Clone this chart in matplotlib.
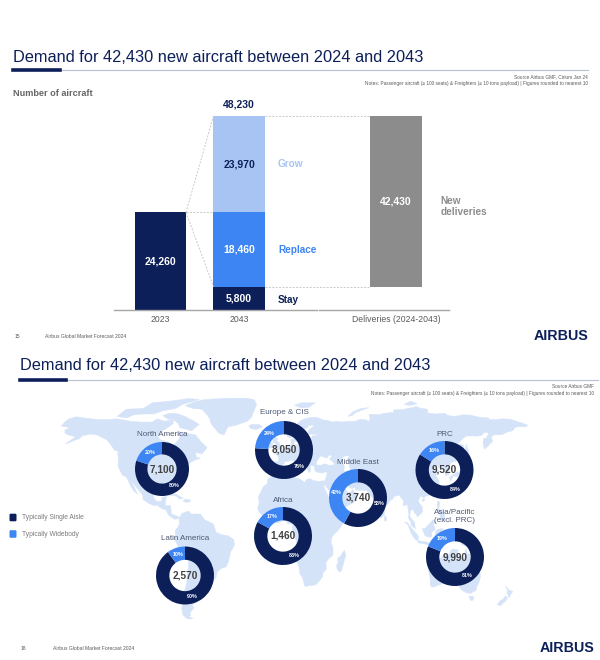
import matplotlib
matplotlib.use("Agg")
import matplotlib.pyplot as plt
from matplotlib.patches import Polygon, FancyBboxPatch

plt.rcParams['font.family'] = ['Liberation Sans', 'DejaVu Sans']

NAVY = '#0c1f59'
BLUE = '#3d85f2'
LIGHT = '#a8c4f2'
GREY_BAR = '#8c8c8c'
LAND = '#d5e3f9'
TXT = '#595959'

# ---- top chart data ----
categories = ['2023', '2043', 'Deliveries (2024-2043)']
fleet_2023 = 24260
stay = 5800
replace = 18460
grow = 23970
fleet_2043 = 48230
deliveries = 42430

# ---- regional split data ----
regions = ['North America', 'Europe & CIS', 'Middle East', 'PRC',
           'Africa', 'Latin America', 'Asia/Pacific\n(excl. PRC)']
region_totals = [7100, 8050, 3740, 9520, 1460, 2570, 9990]
single_aisle_pct = [80, 76, 58, 84, 83, 90, 81]
widebody_pct = [20, 24, 42, 16, 17, 10, 19]

# donut layout in pixels: centre x, centre y, radius, label y
donut_pos = [(162, 469, 27, 435), (284, 450, 29, 413), (358, 498, 29, 462),
             (444.5, 470, 29, 435), (283, 536, 29, 500), (185, 575.5, 29, 538),
             (455, 557, 29, 516)]

# coarse land outlines (lon, lat) for the background map
land = {
    'north_america': [(-168, 65.5), (-165, 68), (-162, 70), (-156, 71.3), (-150, 70.5), (-141, 69.7), (-133, 69.5),
                      (-125, 70), (-115, 68.5), (-108, 68), (-98, 68), (-94, 70), (-89, 68.5), (-82, 69.5), (-82, 67),
                      (-87, 64), (-92, 62), (-94, 59), (-92, 57), (-85, 55.3), (-82, 53), (-80, 55), (-77, 58),
                      (-78, 62), (-72, 61), (-65, 60), (-61, 56), (-56, 52), (-60, 48), (-65, 49), (-64, 46),
                      (-61, 45.5), (-66, 44), (-70, 42), (-72, 41), (-74, 40), (-76, 37), (-76, 35), (-81, 31.5),
                      (-80, 27), (-80.5, 25.2), (-82, 26.5), (-83, 29), (-85, 30), (-89, 30.2), (-90, 29),
                      (-94, 29.6), (-97, 27.8), (-97.5, 24), (-97, 21), (-95, 18.5), (-91, 18.5), (-90.5, 21),
                      (-87, 21.5), (-88, 18), (-88, 15.8), (-84, 15.8), (-83.5, 12), (-83.5, 10.5), (-79.5, 9.5),
                      (-77.5, 8.5), (-79, 7.5), (-81, 7.3), (-83, 8.4), (-85.7, 10), (-87.5, 13), (-91, 14),
                      (-94, 16), (-96.5, 15.7), (-101, 17.3), (-105, 19.5), (-105.5, 22.5), (-108, 25), (-111, 28),
                      (-114.7, 31.6), (-113, 29), (-111, 26), (-109.5, 23), (-112, 24.8), (-114.2, 27.5),
                      (-115.9, 30.3), (-117.1, 32.5), (-118.5, 34), (-120.6, 34.5), (-123, 38), (-124.3, 40.5),
                      (-124, 46), (-124.7, 48.4), (-123, 49), (-127, 50.5), (-130, 54), (-133, 57), (-137, 58.5),
                      (-140, 59.8), (-145, 60.5), (-148, 60), (-151.5, 59.5), (-154, 57.5), (-158, 56.5), (-162, 55),
                      (-164.5, 54.5), (-159, 57.5), (-157, 58.8), (-162, 59.8), (-165, 61), (-165, 63), (-161, 64.5),
                      (-166, 65.2)],
    'baffin': [(-90, 72), (-85, 73.5), (-80, 73.5), (-73, 71.5), (-67, 69), (-62, 66.5), (-65, 64.5), (-68, 62.5),
               (-72, 63.5), (-77, 64.5), (-78, 67), (-82, 69.5), (-86, 69.8)],
    'arctic_isl': [(-125, 71.5), (-118, 76), (-105, 76.5), (-98, 80), (-85, 81), (-70, 82.7), (-62, 82), (-75, 79),
                   (-80, 76.5), (-90, 75), (-97, 73), (-105, 73), (-112, 72.5), (-118, 70.5)],
    'greenland': [(-73, 78.2), (-66, 80.5), (-58, 82), (-45, 82.7), (-30, 83.5), (-20, 82), (-18, 79), (-20, 75),
                  (-22, 71), (-25, 68.5), (-34, 66), (-40, 65), (-43, 60), (-47, 61), (-50, 64), (-53, 67), (-54, 70),
                  (-56, 72.5), (-60, 76), (-67, 76.5)],
    'iceland': [(-24, 65.5), (-22, 66.5), (-16, 66.5), (-13.5, 65), (-18, 63.4), (-22.5, 63.8)],
    'cuba': [(-85, 21.8), (-82, 23.2), (-80, 23.1), (-77, 21.7), (-74.2, 20.2), (-77.5, 19.9), (-79, 21.5),
             (-82.5, 22.2)],
    'hispaniola': [(-74.5, 18.5), (-72.8, 19.9), (-69.5, 19.5), (-68.4, 18.6), (-71.5, 17.7)],
    'south_america': [(-77.5, 8.5), (-76, 9.5), (-75.5, 10.8), (-72, 12), (-70, 12.3), (-68, 10.5), (-64, 10.6),
                      (-61, 10.5), (-58, 7), (-55, 5.8), (-52, 4.7), (-51, 4), (-50, 1.5), (-49, -1), (-44, -2.5),
                      (-40, -3), (-35.5, -5.5), (-35, -9), (-38, -13), (-39, -17), (-40, -20), (-41.5, -22.5),
                      (-44, -23), (-47, -24.5), (-48.5, -26), (-48.8, -28.5), (-51, -31), (-53, -33.5), (-55, -35),
                      (-57.5, -35), (-57, -37), (-58, -38.5), (-62, -39), (-62.5, -41), (-65, -41), (-64, -43),
                      (-65.5, -45), (-67.5, -46.5), (-66, -48), (-69, -51), (-68.5, -52.5), (-70, -53.5),
                      (-66.5, -55), (-71, -55), (-74.5, -52.5), (-75.5, -48), (-74, -44), (-73.5, -38),
                      (-71.5, -32), (-71.4, -28), (-70.3, -23), (-70.2, -18.5), (-72, -17), (-76, -14), (-77.5, -11),
                      (-79.5, -7.5), (-81.2, -5), (-80.3, -3), (-80.5, -1), (-80, 1), (-78.7, 2), (-77.4, 4),
                      (-77.4, 7), (-77.8, 8)],
    'eurasia': [(-9.3, 36.9), (-9.5, 39), (-8.8, 42), (-9.2, 43.2), (-8, 43.7), (-4, 43.4), (-1.5, 43.4),
                (-1.2, 46), (-2.5, 47.3), (-4.7, 48), (-3, 48.8), (-1.5, 48.7), (-1.3, 49.6), (1.5, 50.2),
                (1.6, 51), (3.5, 51.5), (4.8, 53), (7, 53.5), (8.5, 54), (8.3, 57), (10.5, 57.7), (11.5, 58.5),
                (10.5, 59), (8, 58), (5.5, 58.8), (5, 61), (5, 62.5), (8, 63.5), (12, 65.5), (14, 67.5), (16, 69),
                (19, 70), (23, 70.8), (28, 71), (31, 70), (33, 69.3), (36, 69), (40.5, 68), (44, 68.5), (46, 68),
                (53, 68.5), (55, 68.3), (59, 68.8), (61, 69.8), (66, 69.3), (68, 68.3), (69, 70.5), (68, 72.7),
                (73, 72.8), (75, 72.5), (80, 73.5), (87, 74), (87, 75.5), (95, 76), (101, 77), (104.5, 77.7),
                (107, 76.8), (113, 76), (113, 73.7), (119, 73), (126, 73.5), (129, 72), (134, 71.5), (140, 72.5),
                (146, 72.3), (150, 71.5), (153, 71), (160, 70.5), (160, 69.6), (167, 69.6), (170, 70), (176, 69.8),
                (180, 68.8), (185, 67.5), (190, 66), (188, 65), (182, 65), (180, 64.5), (178, 62.5), (174, 61.8),
                (170, 60), (166, 60), (163, 59.8), (162, 58), (163, 56), (160, 53.5), (156.5, 51), (155.5, 55),
                (156, 57.5), (158, 58), (160, 61), (157, 61.7), (154, 59.5), (151, 59.2), (148, 59.3), (143, 59.3),
                (140.5, 58), (137, 55), (135, 54.7), (138, 54), (140.5, 53.5), (141, 52), (140.5, 50), (140, 48),
                (138, 46.5), (135, 43.5), (132, 43), (131, 42.5), (129.7, 41), (129.5, 38), (129.3, 35.2),
                (126.5, 34.5), (126.3, 36.5), (126.7, 37.8), (125, 38), (125, 39.5), (124, 39.8), (121.5, 39),
                (121.5, 40.8), (120, 40.3), (118, 39), (117.5, 38.5), (119, 37.2), (120.8, 37.8), (122.5, 37),
                (120.5, 36), (119.2, 34.8), (120.5, 33), (121.9, 31), (121.5, 30), (122, 29), (120.5, 27),
                (119.5, 25.5), (118, 24.5), (116, 22.8), (114, 22.3), (111, 21.5), (110, 20.3), (109, 21.5),
                (107.5, 21.5), (106.5, 20.2), (105.7, 19), (107, 17), (109, 15), (109.3, 12), (107.7, 10.5),
                (105, 8.7), (104.8, 10.2), (103, 11), (102.5, 12.5), (100.9, 13.5), (100, 12.5), (99.2, 10),
                (100.3, 8), (101.3, 6.9), (103.2, 5.3), (103.5, 2), (104.2, 1.3), (102, 2.3), (100.4, 4),
                (100.3, 5.5), (98.3, 8), (98.6, 10), (98.2, 13), (97.5, 16.5), (95.3, 15.8), (94.2, 16),
                (94.5, 19), (92.8, 20.5), (92, 21.5), (91.6, 22.5), (90.5, 22), (89, 21.8), (87, 21.5),
                (86.5, 20), (84.8, 19.2), (82.3, 16.6), (80.3, 15.5), (80.2, 13), (79.8, 10.3), (78, 8.2),
                (77, 8), (76, 9.5), (74.8, 12.5), (73.5, 15.8), (72.8, 19), (72.6, 21.3), (70.3, 20.9),
                (68.5, 23), (67.5, 23.8), (66.5, 25.4), (64, 25.3), (61.5, 25.2), (58, 25.6), (57.3, 27.2),
                (54.8, 26.5), (52, 27.8), (50.2, 30), (48.5, 30), (48, 29), (49.2, 27), (50.2, 26), (50.8, 24.7),
                (51.6, 24.2), (54, 24.2), (56, 26), (56.5, 24.5), (58.5, 23.5), (59.8, 22.4), (58.5, 20.4),
                (57.7, 19), (56.5, 18), (55, 17), (52.3, 16), (49, 14.2), (45.5, 13), (43.5, 12.7), (42.8, 14.8),
                (42.5, 16.5), (41, 19), (39.2, 21.5), (38.5, 24), (36.7, 26), (35, 28), (34.6, 29.5), (33.8, 28),
                (32.6, 29.8), (32.3, 31.2), (34.3, 31.3), (35, 33), (35.9, 35.5), (36.2, 36.6), (34.7, 36.8),
                (32.5, 36.1), (30.5, 36.3), (29, 36.6), (27.4, 37), (26.3, 38.3), (26.2, 39.5), (26, 40.5),
                (24, 40.8), (22.8, 40.5), (23.5, 38), (22.5, 36.4), (21.7, 36.8), (21, 38.5), (19.5, 40.5),
                (19.4, 41.8), (16, 43.5), (13.6, 45.1), (12.3, 45.2), (12.5, 44), (14, 42.5), (16, 41.4),
                (18.5, 40.2), (17, 39), (16.5, 38), (15.7, 38), (16.2, 39.3), (15.5, 40.2), (12.5, 41.5),
                (11, 42.5), (10, 44), (8.5, 44.3), (7, 43.6), (4.5, 43.4), (3, 43), (3.2, 41.9), (1, 41),
                (0, 39.5), (-0.5, 38.3), (-1.6, 37), (-2.2, 36.7), (-4.4, 36.7), (-5.6, 36), (-6.3, 36.8),
                (-7.4, 37.2), (-8.9, 37)],
    'britain': [(-5.7, 50), (-3, 50.6), (1.3, 51.1), (1.7, 52.7), (0, 53.5), (-0.3, 54.5), (-1.6, 55.6),
                (-2.8, 56.1), (-1.8, 57.6), (-3.2, 58.6), (-5, 58.6), (-6.2, 57.5), (-5.5, 56), (-5, 55),
                (-3.2, 54.6), (-3, 53.4), (-4.5, 53.2), (-4.3, 52.2), (-5.2, 51.7), (-3.2, 51.4), (-4.5, 50.6)],
    'ireland': [(-10, 51.6), (-6.2, 52), (-6, 53.8), (-5.5, 54.5), (-6.3, 55.3), (-8.3, 55.2), (-10, 54.2),
                (-9.8, 53), (-10.5, 52.2)],
    'svalbard': [(11, 78.5), (16, 80), (27, 80), (22, 77.2), (16, 76.8)],
    'novaya_zemlya': [(52, 71.5), (56, 74.5), (62, 76.5), (68, 77), (58, 74), (55, 72)],
    'severnaya': [(95, 79), (100, 81), (105, 79.5), (100, 78.3)],
    'africa': [(-5.9, 35.8), (-2, 35.1), (1, 36.5), (3.5, 36.8), (8.6, 36.9), (10.2, 37.2), (11.1, 36.8),
               (10.3, 35.5), (11.1, 33.3), (13, 32.9), (15.3, 32.3), (19, 30.3), (20.1, 32.2), (23, 32.6),
               (25, 31.6), (29, 30.9), (32.3, 31.2), (32.6, 29.8), (33.6, 27.5), (35.5, 24), (37.2, 21),
               (38.4, 18), (39.3, 15.8), (41.2, 14.5), (43.3, 12.5), (44.5, 10.4), (47, 11.1), (51.2, 11.8),
               (51, 10.4), (49.5, 7.5), (48, 4.5), (46, 2), (43.5, -0.5), (41.5, -1.9), (40, -3.5), (39.2, -5),
               (39.3, -8), (40.5, -10.5), (40.5, -15), (37, -17.5), (35, -20), (35.5, -23.8), (32.9, -26),
               (32.5, -28.5), (30.8, -30.5), (27.5, -33.5), (25, -34), (22, -34.2), (20, -34.8), (18.4, -34),
               (18.2, -32), (17, -29), (15.2, -27), (14.5, -22.9), (13.4, -20.5), (11.8, -17.5), (12, -14),
               (13.8, -10.7), (13, -8.5), (12.2, -6), (11, -3.8), (9.2, -1), (9.6, 2), (9.8, 3.5), (8.5, 4.5),
               (6, 4.3), (4.5, 6.3), (2, 6.3), (-1, 5.1), (-4, 5.2), (-7.5, 4.4), (-9.5, 5.5), (-11.5, 6.9),
               (-13.3, 8.8), (-15, 10.9), (-16.7, 12.5), (-17.2, 14.7), (-16.5, 16.2), (-16, 18), (-16.8, 21.3),
               (-14.6, 24.6), (-13, 27.6), (-9.8, 29.6), (-9.7, 32), (-6.8, 34)],
    'madagascar': [(49.3, -12), (50.4, -15.5), (49.5, -17.5), (48, -22), (47, -25), (45, -25.5), (43.6, -23.5),
                   (43.3, -21.5), (44.4, -19.5), (44, -17), (46.3, -15.8), (48, -13.5)],
    'sri_lanka': [(79.8, 8), (80.2, 9.8), (81.9, 7.5), (81.2, 6.1), (80.1, 6.2)],
    'japan': [(129.6, 33.2), (130.9, 31), (131.9, 33), (132.5, 34.3), (135, 34), (135.8, 33.5), (137, 34.6),
              (139, 34.8), (140.8, 35.7), (141, 38), (142, 39.5), (141.4, 41.4), (140, 40.6), (140, 39.5),
              (139.2, 38), (137.5, 37), (136.5, 37), (133, 35.5), (131, 34.4)],
    'hokkaido': [(140, 41.5), (141.5, 42.5), (143.3, 42), (145.5, 43.3), (144.5, 44), (141.8, 45.4),
                 (141.3, 43.7), (140.3, 43)],
    'sakhalin': [(142, 46), (143.5, 46.5), (143, 49.5), (144.6, 49), (143, 53.5), (142.6, 54.3), (142.2, 51.5),
                 (141.8, 48.7)],
    'taiwan': [(120.1, 23), (121, 25.3), (122, 25), (120.8, 22)],
    'hainan': [(108.6, 19.2), (110.5, 20.1), (111, 19.6), (109.6, 18.2)],
    'philippines': [(120.5, 18.5), (122.2, 18.5), (122.3, 16.5), (121.6, 14), (124, 12.6), (125.5, 11),
                    (126.2, 9), (125.5, 6), (124, 6.5), (123, 7.5), (122, 7), (122.9, 9), (122, 10.5), (121, 13),
                    (120.3, 14.5), (120.6, 16)],
    'sumatra': [(95.3, 5.6), (97.5, 5.2), (100.3, 2.2), (104.5, -1.8), (106, -3.1), (105.8, -5.8), (104.5, -5.9),
                (102.3, -4), (100.3, -1.2), (99, 1.5), (98.2, 3.5)],
    'java': [(105.2, -6.8), (106.5, -6), (108.5, -6.7), (111, -6.5), (114.5, -7.7), (114.4, -8.7), (111, -8.2),
             (108, -7.8), (106, -7.4)],
    'borneo': [(109, 1.5), (110.3, -1.5), (111, -3), (114.5, -4), (116.5, -3.5), (116, -1), (118.9, 1),
               (117.5, 4), (119.2, 5.4), (117, 7), (115.5, 5.3), (113, 3.2), (111, 1.6)],
    'sulawesi': [(119.4, -5.5), (120.5, -5.5), (121, -2.5), (122.8, -4.8), (122, -1.5), (121, -1), (123.3, -0.8),
                 (125, 1.5), (120.5, 1), (119.3, -0.5), (118.8, -3)],
    'new_guinea': [(131, -1), (134, -0.8), (135.5, -3.3), (138, -1.7), (141, -2.6), (145, -4.2), (146.6, -6.5),
                   (148, -8), (150.5, -10.5), (147.5, -10.2), (146, -8), (143.5, -9), (141, -9.1), (138.8, -8.3),
                   (138.2, -6), (137.5, -5), (135, -4.5), (133, -4), (132, -2.8)],
    'australia': [(113.5, -22), (114, -26), (115, -30), (115, -33.6), (116, -35), (118, -35), (121, -33.9),
                  (124, -33), (126, -32.3), (129, -31.7), (131.5, -31.5), (134, -32.5), (135.6, -34.8),
                  (137.8, -32.7), (137.5, -35.5), (140, -37.5), (143.5, -38.8), (146.3, -39), (148, -37.8),
                  (150, -37.5), (150.7, -35), (152.5, -32), (153.6, -28.5), (153, -25.3), (150.8, -22.5),
                  (148.8, -20.3), (146.3, -19), (145.4, -16), (145, -14.5), (143.6, -14), (142.5, -10.8),
                  (141.6, -13), (141.5, -16.5), (140.7, -17.5), (139, -16.7), (136.8, -15.8), (136, -13),
                  (136.8, -12), (133, -11.3), (131, -12), (129.5, -15), (127.5, -14), (125.8, -14.5),
                  (123.5, -16.5), (122.2, -18), (121, -19.5), (117, -20.7)],
    'tasmania': [(144.6, -40.7), (148.3, -40.9), (148, -43.2), (146.5, -43.6), (145.2, -42.2)],
    'nz_north': [(172.7, -34.4), (174.5, -36), (175.5, -37), (178.5, -37.7), (177, -39.3), (176, -41.3),
                 (174.7, -41.3), (175, -40), (173.8, -39.2), (174.5, -37.5)],
    'nz_south': [(172.7, -40.5), (174.2, -41.7), (173, -43.8), (171, -45), (169, -46.7), (166.5, -46),
                 (168.3, -44), (171, -42.5)],
}
water = {
    'black_sea': [(28, 41.3), (28.2, 43.3), (29.7, 45.3), (31, 46.6), (33.5, 46), (35.5, 45.2), (38, 47.2),
                  (39.5, 47), (37.5, 44.7), (40, 43.3), (41.6, 41.6), (38, 40.9), (35, 42), (33, 41.9),
                  (31.2, 41.1)],
    'caspian': [(47, 44.5), (49, 46.5), (51.5, 47), (53, 46.5), (51, 45), (52.5, 42.5), (53, 40), (54, 37.5),
                (51, 36.8), (49, 37.5), (49.5, 40.3), (48, 42.5)],
    'baltic': [(10.8, 54), (14, 54), (19, 54.5), (21, 56.5), (23.5, 57.5), (24.5, 59.4), (29.5, 60),
               (24.5, 60.2), (21.5, 60.5), (21.5, 63), (25, 65), (25.5, 65.8), (22, 65.8), (21, 64.5),
               (17.5, 62.5), (17.5, 61), (19, 59.8), (16.5, 57), (16, 56.2), (14, 55.5), (12.5, 56), (11, 55.5)],
}

W, H = 600, 660


def px_rect(left, top, width, height):
    return [left / W, 1 - (top + height) / H, width / W, height / H]


fig = plt.figure(figsize=(6, 6.6), dpi=100)

# overlay for slide text (pixel coordinates)
bg = fig.add_axes([0, 0, 1, 1])
bg.set_xlim(0, W)
bg.set_ylim(H, 0)
bg.axis('off')
bg.set_zorder(5)

title = 'Demand for 42,430 new aircraft between 2024 and 2043'
notes = 'Notes: Passenger aircraft (\u2265 100 seats) & Freighters (\u2265 10 tons payload) | Figures rounded to nearest 10'

# ---------- slide 1 ----------
bg.text(13, 62, title, fontsize=11.8, color=NAVY, va='baseline')
bg.plot([13, 588], [70, 70], color='#b9c0d3', lw=0.8)
bg.plot([13, 60], [70, 70], color=NAVY, lw=2.6)
bg.text(588, 77, 'Source Airbus GMF, Cirium Jan 24', ha='right', va='center', fontsize=3.4, color=TXT)
bg.text(588, 83.5, notes, ha='right', va='center', fontsize=3.4, color=TXT)
bg.text(13, 94, 'Number of aircraft', fontsize=6.6, fontweight='bold', color='#666666', va='center')
bg.text(15, 337, '15', fontsize=3.6, color=TXT, va='center')
bg.text(45, 337, 'Airbus Global Market Forecast 2024', fontsize=3.6, color=TXT, va='center')
bg.text(588, 336, 'AIRBUS', ha='right', va='center', fontsize=10.3, fontweight='heavy', color=NAVY)

# bar chart axes
x0_px, step_px = 160.5, 78.5
ax_left, ax_right, ax_top, ax_base = 114, 449, 95, 310
bar = fig.add_axes(px_rect(ax_left, ax_top, ax_right - ax_left, ax_base - ax_top))
bar.set_xlim((ax_left - x0_px) / step_px, (ax_right - x0_px) / step_px)
bar.set_ylim(0, fleet_2043 * (ax_base - ax_top) / 194)
for s in bar.spines.values():
    s.set_visible(False)
bar.set_yticks([])
xpos = [0, 1, 3]
bw = 0.65
bar.bar(xpos[0], fleet_2023, width=bw, color=NAVY)
bar.bar(xpos[1], stay, width=bw, color=NAVY)
bar.bar(xpos[1], replace, width=bw, bottom=stay, color=BLUE)
bar.bar(xpos[1], grow, width=bw, bottom=stay + replace, color=LIGHT)
bar.bar(xpos[2], deliveries, width=bw, bottom=stay, color=GREY_BAR)
bar.set_xticks(xpos, categories)
bar.tick_params(axis='x', length=0, pad=3.5, labelsize=6.2, labelcolor=TXT)

xl = bar.get_xlim()
bar.plot([xl[0], 1.99], [0, 0], color='#a6a6a6', lw=1, clip_on=False)
bar.plot([2.02, xl[1]], [0, 0], color='#a6a6a6', lw=1, clip_on=False)

dash = dict(color='#c9c9c9', lw=0.7, ls=(0, (2, 1.5)))
h = bw / 2
bar.plot([xpos[0] + h, xpos[1] - h], [fleet_2023, fleet_2043], **dash)
bar.plot([xpos[0] + h, xpos[1] - h], [fleet_2023, fleet_2023], **dash)
bar.plot([xpos[0] + h, xpos[1] - h], [fleet_2023, stay], **dash)
bar.plot([xpos[1] + h, xpos[2] - h], [fleet_2043, fleet_2043], **dash)
bar.plot([xpos[1] + h, xpos[2] - h], [stay, stay], **dash)

vt = dict(ha='center', va='center', fontsize=7.5, fontweight='bold')
bar.text(xpos[0], fleet_2023 / 2, f'{fleet_2023:,}', color='white', **vt)
bar.text(xpos[1], stay / 2, f'{stay:,}', color='white', **vt)
bar.text(xpos[1], stay + replace / 2, f'{replace:,}', color='white', **vt)
bar.text(xpos[1], stay + replace + grow / 2, f'{grow:,}', color=NAVY, **vt)
bar.text(xpos[2], stay + deliveries / 2, f'{deliveries:,}', color='white', **vt)
bar.annotate(f'{fleet_2043:,}', (xpos[1], fleet_2043), xytext=(0, 8), textcoords='offset points',
             color=NAVY, **vt)

lx = (278 - x0_px) / step_px
lt = dict(ha='left', va='center', fontsize=7.2, fontweight='bold')
bar.text(lx, stay + replace + grow / 2, 'Grow', color=LIGHT, **lt)
bar.text(lx, stay + replace / 2, 'Replace', color=BLUE, **lt)
bar.annotate('Stay', (lx, stay / 2), xytext=(0, -1), textcoords='offset points', color=NAVY, **lt)
bar.annotate('New\ndeliveries', ((440.7 - x0_px) / step_px, stay + deliveries / 2), xytext=(0, -4),
             textcoords='offset points', color=GREY_BAR, linespacing=1.15, **lt)

# ---------- slide 2 ----------
bg.text(20, 370, title, fontsize=11.8, color=NAVY, va='baseline')
bg.plot([20, 598], [379.5, 379.5], color='#b9c0d3', lw=0.8)
bg.plot([20, 66], [379.5, 379.5], color=NAVY, lw=2.6)
bg.text(594, 386, 'Source Airbus GMF', ha='right', va='center', fontsize=3.4, color=TXT)
bg.text(594, 393, notes, ha='right', va='center', fontsize=3.4, color=TXT)
bg.text(21, 649, '18', fontsize=3.6, color=TXT, va='center')
bg.text(53, 649, 'Airbus Global Market Forecast 2024', fontsize=3.6, color=TXT, va='center')
bg.text(594, 648, 'AIRBUS', ha='right', va='center', fontsize=10.3, fontweight='heavy', color=NAVY)

# world map background
mp = fig.add_axes(px_rect(61, 398, 467, 221))
mp.set_xlim(-168, 190)
mp.set_ylim(-55, 83)
mp.axis('off')
for pts in land.values():
    mp.add_patch(Polygon(pts, closed=True, facecolor=LAND, edgecolor=LAND, lw=0.3))
for pts in water.values():
    mp.add_patch(Polygon(pts, closed=True, facecolor='white', edgecolor='none'))

# donuts
for name, total, sa, wb, (cx, cy, r, ly) in zip(regions, region_totals, single_aisle_pct,
                                                 widebody_pct, donut_pos):
    dax = fig.add_axes(px_rect(cx - r, cy - r, 2 * r, 2 * r))
    dax.pie([sa, wb], colors=[NAVY, BLUE], startangle=90, counterclock=False, radius=1,
            wedgeprops=dict(width=0.46, linewidth=0), autopct='%.0f%%', pctdistance=0.77,
            textprops=dict(color='white', fontsize=3.9, fontweight='bold'))
    dax.set_xlim(-1, 1)
    dax.set_ylim(-1, 1)
    dax.text(0, 0, f'{total:,}', ha='center', va='center', fontsize=7.2, fontweight='bold', color='#404040')
    bg.text(cx, ly, name, ha='center', va='center', fontsize=5.8, color='#4f5873', linespacing=1.2)

# legend
for y, col, lab in [(517.5, NAVY, 'Typically Single Aisle'), (534, BLUE, 'Typically Widebody')]:
    bg.add_patch(FancyBboxPatch((9.5, y - 3.8), 7, 7.6, boxstyle='round,pad=0,rounding_size=1.2',
                                facecolor=col, edgecolor='none'))
    bg.text(22, y, lab, fontsize=4.8, color='#7a7a7a', va='center')

fig.savefig('out.png', dpi=100)
